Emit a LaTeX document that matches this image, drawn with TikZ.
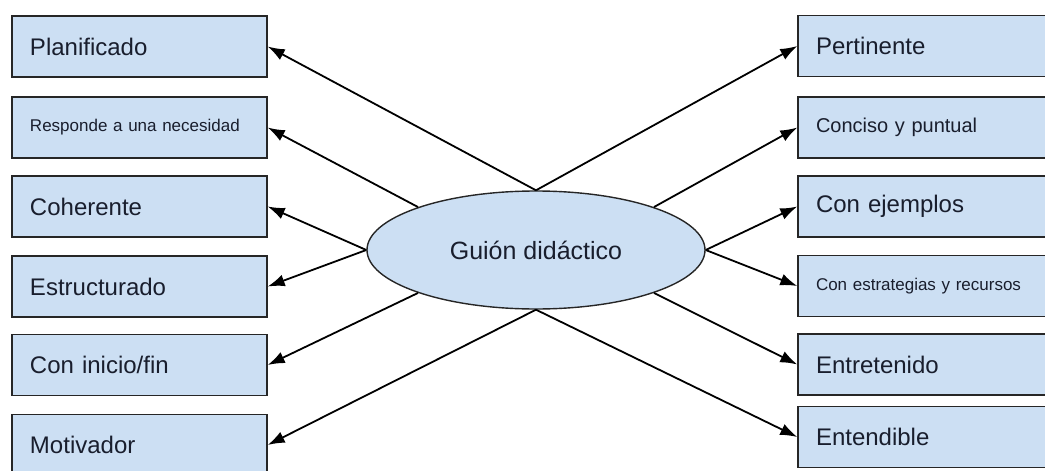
\documentclass[tikz,border=0pt]{standalone}
\usepackage{fontspec}
\setmainfont{Liberation Sans}
\usetikzlibrary{shapes.geometric,arrows.meta}
\definecolor{boxfill}{RGB}{204,223,243}
\definecolor{labeltext}{RGB}{25,30,45}
\tikzset{%
  box/.style      = {shape=rectangle, draw=black!85, line width=1.4pt,%
                     fill=boxfill, text=labeltext,%
                     minimum height=61pt, inner ysep=0pt, inner xsep=18pt,%
                     text width=219pt, align=left,%
                     font=\fontsize{24}{28}\selectfont},%
  midbox/.style   = {box, font=\fontsize{20}{24}\selectfont},%
  smallbox/.style = {box, font=\fontsize{17}{21}\selectfont},%
  hub/.style      = {shape=ellipse, draw=black!85, line width=1.4pt,%
                     fill=boxfill, text=labeltext, inner sep=0pt,%
                     minimum width=338pt, minimum height=118pt,%
                     font=\fontsize{25}{30}\selectfont},%
  arrow/.style    = {line width=1.8pt, draw=black,%
                     -{Latex[length=17pt,width=12pt]}}%
}
\begin{document}
\begin{tikzpicture}[x=1pt,y=-1pt]
	\useasboundingbox (0,0) rectangle (1045,471);
		\node [hub] (guion) at (536,250) {Guión didáctico};
		% left column
		\node [box]      (plan)   at (139.5,46.5)  {Planificado};
		\node [smallbox] (resp)   at (139.5,127.5) {Responde a una necesidad};
		\node [box]      (coher)  at (139.5,206.5) {Coherente};
		\node [box]      (estruc) at (139.5,286.5) {Estructurado};
		\node [box]      (inifin) at (139.5,365)   {Con inicio/fin};
		\node [box]      (motiv)  at (139.5,445)   {Motivador};
		% right column
		\node [box]      (pert)   at (925.5,46)    {Pertinente};
		\node [midbox]   (conc)   at (925.5,127.5) {Conciso y puntual};
		\node [box]      (ejem)   at (925.5,206.5) {Con ejemplos};
		\node [smallbox] (estrat) at (925.5,286)   {Con estrategias y recursos};
		\node [box]      (entret) at (925.5,364.5) {Entretenido};
		\node [box]      (entend) at (925.5,437)   {Entendible};
		% arrows
		\draw [arrow] (guion.north) -- (plan.east);
		\draw [arrow] (guion.160)   -- (resp.east);
		\draw [arrow] (guion.west)  -- (coher.east);
		\draw [arrow] (guion.west)  -- (estruc.east);
		\draw [arrow] (guion.200)   -- (inifin.east);
		\draw [arrow] (guion.south) -- (motiv.east);
		\draw [arrow] (guion.north) -- (pert.west);
		\draw [arrow] (guion.20)    -- (conc.west);
		\draw [arrow] (guion.east)  -- (ejem.west);
		\draw [arrow] (guion.east)  -- (estrat.west);
		\draw [arrow] (guion.340)   -- (entret.west);
		\draw [arrow] (guion.south) -- (entend.west);
	\end{tikzpicture}
\end{document}
